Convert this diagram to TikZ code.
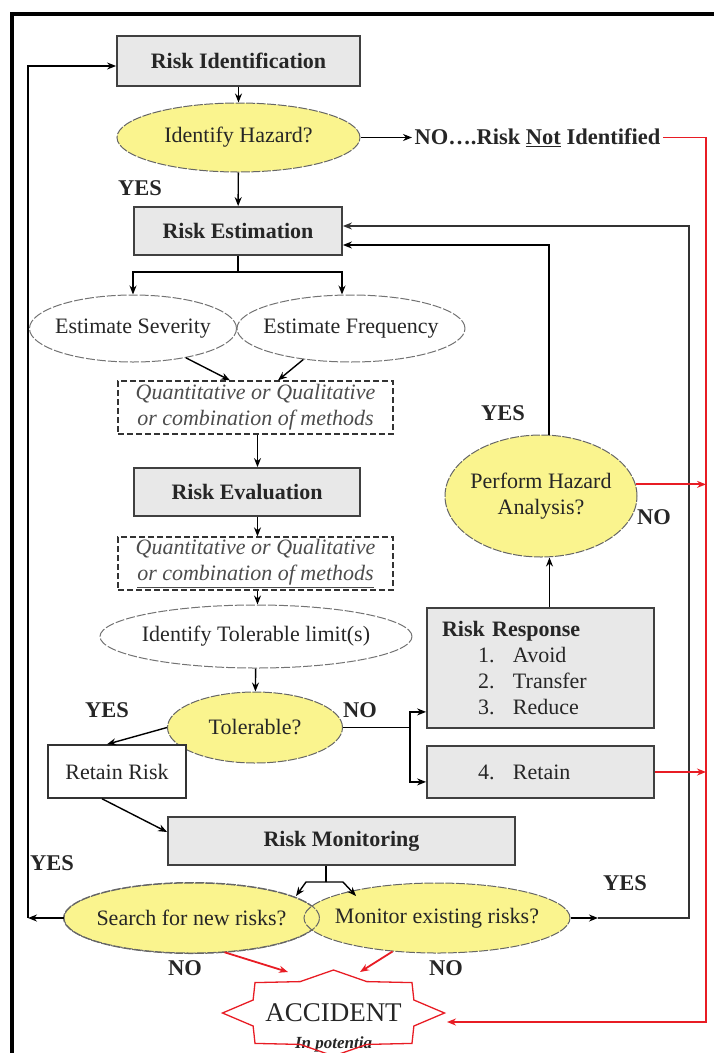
\documentclass[tikz,border=0pt]{standalone}
\usepackage{fontspec}
\setmainfont{Liberation Serif}
\usetikzlibrary{arrows.meta,shapes.geometric,calc}

\definecolor{boxgray}{RGB}{232,232,232}
\definecolor{askyellow}{RGB}{250,244,142}
\definecolor{alarmred}{RGB}{232,28,36}

\newcommand{\flowtxt}{\fontsize{22}{26}\selectfont}

\tikzset{
  stage/.style={rectangle, draw=black!75, fill=boxgray, line width=1.8pt, inner sep=0pt, font=\flowtxt\bfseries},
  ask/.style={ellipse, draw=black!60, fill=askyellow, line width=1pt, dash pattern=on 9pt off 1.5pt, inner xsep=-8pt, inner ysep=0pt},
  askrim/.style={draw=black!60, line width=1pt, dash pattern=on 9pt off 1.5pt},
  oval/.style={ellipse, draw=black!55, line width=1pt, dash pattern=on 9pt off 2pt, inner xsep=-8pt, inner ysep=0pt},
  methods/.style={rectangle, draw=black!80, line width=1.3pt, dash pattern=on 6pt off 3pt, inner sep=0pt, align=center, font=\flowtxt\itshape, text=black!70},
  plainbox/.style={rectangle, draw=black!80, line width=1.5pt, fill=white, inner sep=0pt},
  answer/.style={font=\fontsize{22.5}{26}\selectfont\bfseries},
  alarm/.style={draw=alarmred, line width=1.8pt},
}

\begin{document}
\begin{tikzpicture}[x=1pt, y=-1pt, >={Stealth[length=9pt,width=7pt]}, line width=1.4pt, every node/.style={font=\flowtxt, text=black!85}]
    \useasboundingbox (0,0) rectangle (714,1053);

    % Frame
    \draw [line width=4.5pt] (12,1053) |- (714,14);

    % Nodes
    \node [stage, minimum width=243pt, minimum height=50pt]   (riskid)   at (238.5,61)  {Risk Identification};
    \node [ask, minimum width=243pt, minimum height=69pt]     (idhaz)    at (238.5,137.5) {Identify Hazard?};
    \node [answer, anchor=west, inner sep=2pt]                (notid)    at (412,137.5) {NO….Risk \underline{Not} Identified};
    \node [answer]                                            (yesid)    at (140,188)   {YES};
    \node [stage, minimum width=208pt, minimum height=48pt]   (riskest)  at (238,231)   {Risk Estimation};
    \node [oval, minimum width=207pt, minimum height=67pt]    (sev)      at (133,328.5) {Estimate Severity};
    \node [oval, minimum width=228pt, minimum height=67pt]    (freq)     at (351,328.5) {Estimate Frequency};
    \node [methods, minimum width=275pt, minimum height=53pt] (meth1)    at (255.5,407.5) {Quantitative or Qualitative\\or combination of methods};
    \node [stage, minimum width=226pt, minimum height=48pt]   (riskeval) at (247,492)   {Risk Evaluation};
    \node [methods, minimum width=275pt, minimum height=53pt] (meth2)    at (255.5,563.5) {Quantitative or Qualitative\\\underline{or combination of methods}};
    \node [oval, minimum width=312pt, minimum height=63pt]    (tollim)   at (256,636.5) {Identify Tolerable limit(s)};
    \node [ask, minimum width=175pt, minimum height=71pt]     (tol)      at (255,727.5) {Tolerable?};
    \node [answer]                                            (yestol)   at (107,710)   {YES};
    \node [answer]                                            (notol)    at (360,710)   {NO};
    \node [plainbox, minimum width=138pt, minimum height=53pt] (keep)    at (117,771.5) {Retain Risk};
    \node [stage, font=\flowtxt, align=left, text width=197pt, minimum width=227pt, minimum height=120pt, inner xsep=15pt]
                                                              (resp)     at (540.5,668) {\textbf{Risk Response}\\
                                                                                         \hspace*{36pt}\makebox[35pt][l]{1.}Avoid\\
                                                                                         \hspace*{36pt}\makebox[35pt][l]{2.}Transfer\\
                                                                                         \hspace*{36pt}\makebox[35pt][l]{3.}Reduce};
    \node [stage, font=\flowtxt, align=left, text width=197pt, minimum width=227pt, minimum height=52pt, inner xsep=15pt]
                                                              (retain)   at (540.5,772) {\hspace*{36pt}\makebox[35pt][l]{4.}Retain};
    \node [ask, align=center, minimum width=192pt, minimum height=122pt] (hazard) at (541,496) {Perform Hazard\\Analysis?};
    \node [answer]                                            (yeshaz)   at (503,413)   {YES};
    \node [answer]                                            (nohaz)    at (654,517)   {NO};
    \node [stage, minimum width=347pt, minimum height=48pt]   (riskmon)  at (341.5,841) {Risk Monitoring};
    \node [ask, minimum width=255pt, minimum height=70pt]     (search)   at (191.5,918) {Search for new risks?};
    \node [ask, minimum width=264pt, minimum height=70pt]     (monitor)  at (437,918)   {Monitor existing risks?};
    \draw [askrim] let \p1 = ($(search.east)-(search.center)$), \p2 = ($(search.north)-(search.center)$)
        in (search.center) ellipse [x radius=\x1, y radius=\y2];
    \node [answer]                                            (yesnew)   at (52,863)    {YES};
    \node [answer]                                            (yesold)   at (625,883)   {YES};
    \node [answer]                                            (nonew)    at (185,968)   {NO};
    \node [answer]                                            (noold)    at (446,968)   {NO};
    \node [minimum width=221pt, font=\fontsize{27}{30}\selectfont] (acc) at (333.5,1013) {ACCIDENT};
    \node [font=\fontsize{17}{20}\selectfont\bfseries\itshape] (potentia) at (333.5,1044) {In potentia};

    % Star round the accident
    \draw [alarm, line width=1.3pt] ($(acc.center)+(0:111pt and 43pt)$)
        \foreach \a in {0,45,...,315} { -- ($(acc.center)+(\a+22.5:87pt and 34pt)$) -- ($(acc.center)+(\a+45:111pt and 43pt)$) } -- cycle;

    % Helper points
    \coordinate (estfork) at (238,272);
    \coordinate (fork)    at (410,727.5);
    \coordinate (stem)    at (326,882);
    \coordinate (stemL)   at (306,882);
    \coordinate (stemR)   at (343,882);
    \coordinate (tipL)    at (296,896);
    \coordinate (tipR)    at (356,896);
    \coordinate (loopL)   at (28,918);
    \coordinate (mmid)    at (598,918);
    \coordinate (loopR)   at (689,918);
    \coordinate (redtop)  at (706,137.5);
    \coordinate (redbot)  at (706,1022);
    \coordinate (accin)   at (447,1022);
    \coordinate (accL)    at (288,972);
    \coordinate (accR)    at (360,972);

    % Paths
    \draw [->] (riskid) -- (idhaz);
    \draw [->] (idhaz.east) -- (notid.west);
    \draw [->] (idhaz) -- (riskest);
    \draw      (riskest.south) -- (estfork);
    \draw [->] (estfork) -| (sev.north);
    \draw [->] (estfork) -| ([xshift=-9pt]freq.north);
    \draw [->] (sev.-29) -- ([xshift=-25.5pt]meth1.north);
    \draw [->] (freq.-147) -- ([xshift=22.5pt]meth1.north);
    \draw [->] ([xshift=2pt]meth1.south) -- ([xshift=2pt]meth1.south |- riskeval.north);
    \draw [->] ([xshift=2pt]meth1.south |- riskeval.south) -- ([xshift=2pt]meth2.north);
    \draw [->] ([xshift=2pt]meth2.south) -- ([xshift=2pt]meth2.south |- tollim.north);
    \draw [->] (tollim) -- (tol);
    \draw [->] (tol.west) -- ([xshift=-10pt]keep.north);
    \draw      (tol.east) -- (fork);
    \draw [->] (fork) |- ([yshift=17pt]resp.south west);
    \draw [->] (fork) |- ([yshift=17pt]retain.south west);
    \draw [->] ([xshift=9pt]resp.north) -- ([xshift=9pt]resp.north |- hazard.south);
    \draw [->] ([xshift=8pt]hazard.north) |- ([yshift=-14pt]riskest.east);
    \draw [->] ([xshift=-15pt]keep.south) -- ([yshift=9pt]riskmon.west);
    \draw      (riskmon.south -| stem) -- (stem);
    \draw [->] (stem) -- (stemL) -- (tipL);
    \draw [->] (stem) -- (stemR) -- (tipR);
    \draw [->] (search.west) -- (loopL);
    \draw [->] (loopL) |- ([yshift=-5pt]riskid.west);
    \draw [->] (monitor.east) -- (mmid);
    \draw [->, draw=black!80] (mmid) -- (loopR) |- ([yshift=5pt]riskest.east);

    % Red paths to the accident
    \draw [alarm, ->] (notid.east |- redtop) -- (redtop) -- (redbot) -- (accin);
    \draw [alarm, ->] (hazard.7) -- (hazard.7 -| redtop);
    \draw [alarm, ->] (retain.east) -- (retain.east -| redtop);
    \draw [alarm, ->] (search.-46) -- (accL);
    \draw [alarm, ->] (monitor.-143) -- (accR);

\end{tikzpicture}
\end{document}
